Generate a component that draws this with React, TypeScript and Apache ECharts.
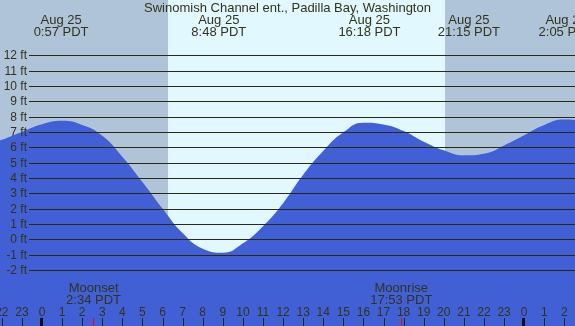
import React, { useEffect, useRef } from "react";
import * as echarts from "echarts";

const TITLE = "Swinomish Channel ent., Padilla Bay, Washington";

// tide heights (ft) read at each hour (hours from midnight Aug 25, PDT)
const tideHours = [-3, -2, -1, 0, 1, 2, 3, 4, 5, 6, 7, 8, 9, 10, 11, 12, 13, 14, 15, 16, 17, 18, 19, 20, 21, 22, 23, 24, 25, 26, 27];
const tideFeet = [5.95, 6.48, 7.0, 7.5, 7.73, 7.45, 6.75, 5.38, 3.73, 2.0, 0.4, -0.62, -0.88, -0.27, 0.85, 2.35, 4.2, 5.75, 6.97, 7.6, 7.48, 7.05, 6.36, 5.8, 5.47, 5.58, 6.12, 6.78, 7.45, 7.8, 7.72];

// high / low tide labels
const extremeHours = [0.95, 8.8, 16.3, 21.25, 26.083];
const extremeDates = ["Aug 25", "Aug 25", "Aug 25", "Aug 25", "Aug 26"];
const extremeTimes = ["0:57 PDT", "8:48 PDT", "16:18 PDT", "21:15 PDT", "2:05 PDT"];

// hour ticks on the bottom axis
const hourTicks = [-2, -1, 0, 1, 2, 3, 4, 5, 6, 7, 8, 9, 10, 11, 12, 13, 14, 15, 16, 17, 18, 19, 20, 21, 22, 23, 24, 25, 26];
const hourLabels = ["22", "23", "0", "1", "2", "3", "4", "5", "6", "7", "8", "9", "10", "11", "12", "13", "14", "15", "16", "17", "18", "19", "20", "21", "22", "23", "0", "1", "2"];

// height grid lines
const feetTicks = [-2, -1, 0, 1, 2, 3, 4, 5, 6, 7, 8, 9, 10, 11, 12];
const feetLabels = ["-2 ft", "-1 ft", "0 ft", "1 ft", "2 ft", "3 ft", "4 ft", "5 ft", "6 ft", "7 ft", "8 ft", "9 ft", "10 ft", "11 ft", "12 ft"];

// moon events
const moonHours = [2.567, 17.883];
const moonNames = ["Moonset", "Moonrise"];
const moonTimes = ["2:34 PDT", "17:53 PDT"];

// sunrise / sunset
const sunHours = [6.27, 20.06];

const X_MIN = -2.0906;
const X_MAX = 26.531;
const Y_MIN = -5.662;
const Y_MAX = 15.603;

const NIGHT = "#b0c4d9";
const DAY = "#e0f8fe";
const WATER = "#4160d6";
const LINE = "#2a2a10";
const TEXT = "#333318";
const FONT = '"Liberation Sans", Arial, sans-serif';

export default function App() {
  const ref = useRef<HTMLDivElement>(null);

  useEffect(() => {
    if (!ref.current) return;
    const chart = echarts.init(ref.current, undefined, { renderer: "svg" });

    const bandStart = [X_MIN, sunHours[0], sunHours[1]];
    const bandEnd = [sunHours[0], sunHours[1], X_MAX];
    const bandColors = [NIGHT, DAY, NIGHT];

    chart.setOption({
      animation: false,
      title: {
        text: TITLE,
        left: "center",
        top: 1,
        padding: 0,
        textStyle: { fontSize: 13, fontWeight: "normal", color: TEXT, fontFamily: FONT },
        z: 10,
      },
      grid: { left: 0, right: 0, top: 0, bottom: 0 },
      xAxis: { type: "value", min: X_MIN, max: X_MAX, show: false },
      yAxis: { type: "value", min: Y_MIN, max: Y_MAX, show: false },
      series: [
        {
          type: "custom",
          z: 0,
          silent: true,
          data: bandStart.map((s, i) => [s, bandEnd[i]]),
          renderItem: (params: any, api: any) => {
            const i = params.dataIndex;
            const a = api.coord([bandStart[i], Y_MAX]);
            const b = api.coord([bandEnd[i], Y_MIN]);
            const x0 = Math.round(a[0]);
            const x1 = Math.round(b[0]);
            return {
              type: "rect",
              shape: { x: x0, y: a[1], width: x1 - x0, height: b[1] - a[1] },
              style: { fill: bandColors[i] },
            };
          },
        },
        {
          type: "line",
          z: 2,
          silent: true,
          smooth: 0.5,
          symbol: "none",
          data: tideHours.map((h, i) => [h, tideFeet[i]]),
          lineStyle: { width: 0, color: WATER },
          areaStyle: { color: WATER, opacity: 1, origin: "start" },
        },
        {
          type: "custom",
          z: 3,
          silent: true,
          data: feetTicks.map((v) => [X_MIN, v]),
          renderItem: (params: any, api: any) => {
            const i = params.dataIndex;
            const p = api.coord([X_MIN, feetTicks[i]]);
            const y = Math.round(p[1]) + 0.5;
            const w = api.getWidth();
            return {
              type: "group",
              children: [
                { type: "line", shape: { x1: 29, y1: y, x2: w, y2: y }, style: { stroke: LINE, lineWidth: 1 } },
                {
                  type: "text",
                  x: 27,
                  y: p[1],
                  style: { text: feetLabels[i], align: "right", verticalAlign: "middle", font: "12px " + FONT, fill: TEXT },
                },
              ],
            };
          },
        },
        {
          type: "custom",
          z: 4,
          silent: true,
          data: hourTicks.map((h) => [h, Y_MIN]),
          renderItem: (params: any, api: any) => {
            const i = params.dataIndex;
            const h = hourTicks[i];
            const p = api.coord([h, Y_MIN]);
            const x = Math.round(p[0]);
            const midnight = ((h % 24) + 24) % 24 === 0;
            const tick = midnight
              ? { type: "rect", shape: { x: x - 2, y: p[1] - 8, width: 3, height: 8 }, style: { fill: "#111" } }
              : { type: "line", shape: { x1: x + 0.5, y1: p[1] - 8, x2: x + 0.5, y2: p[1] }, style: { stroke: "#222", lineWidth: 1 } };
            return {
              type: "group",
              children: [
                tick,
                {
                  type: "text",
                  x: p[0],
                  y: p[1] - 14.5,
                  style: { text: hourLabels[i], align: "center", verticalAlign: "middle", font: "12px " + FONT, fill: TEXT },
                },
              ],
            };
          },
        },
        {
          type: "custom",
          z: 5,
          silent: true,
          data: moonHours.map((h) => [h, Y_MIN]),
          renderItem: (params: any, api: any) => {
            const i = params.dataIndex;
            const p = api.coord([moonHours[i], Y_MIN]);
            const x = Math.floor(p[0]) + 0.5;
            return {
              type: "group",
              children: [
                { type: "line", shape: { x1: x, y1: p[1] - 8, x2: x, y2: p[1] }, style: { stroke: "#ff0000", lineWidth: 1 } },
                {
                  type: "text",
                  x: p[0],
                  y: p[1] - 38.7,
                  style: { text: moonNames[i], align: "center", verticalAlign: "middle", font: "13px " + FONT, fill: TEXT },
                },
                {
                  type: "text",
                  x: p[0],
                  y: p[1] - 26.7,
                  style: { text: moonTimes[i], align: "center", verticalAlign: "middle", font: "13px " + FONT, fill: TEXT },
                },
              ],
            };
          },
        },
        {
          type: "custom",
          z: 5,
          silent: true,
          data: extremeHours.map((h) => [h, Y_MAX]),
          renderItem: (params: any, api: any) => {
            const i = params.dataIndex;
            const p = api.coord([extremeHours[i], Y_MAX]);
            return {
              type: "group",
              children: [
                {
                  type: "text",
                  x: p[0],
                  y: p[1] + 19.3,
                  style: { text: extremeDates[i], align: "center", verticalAlign: "middle", font: "13px " + FONT, fill: TEXT },
                },
                {
                  type: "text",
                  x: p[0],
                  y: p[1] + 31.7,
                  style: { text: extremeTimes[i], align: "center", verticalAlign: "middle", font: "13px " + FONT, fill: TEXT },
                },
              ],
            };
          },
        },
      ],
    });

    return () => chart.dispose();
  }, []);

  return <div ref={ref} style={{ position: "fixed", left: 0, top: 0, width: 575, height: 326 }} />;
}
